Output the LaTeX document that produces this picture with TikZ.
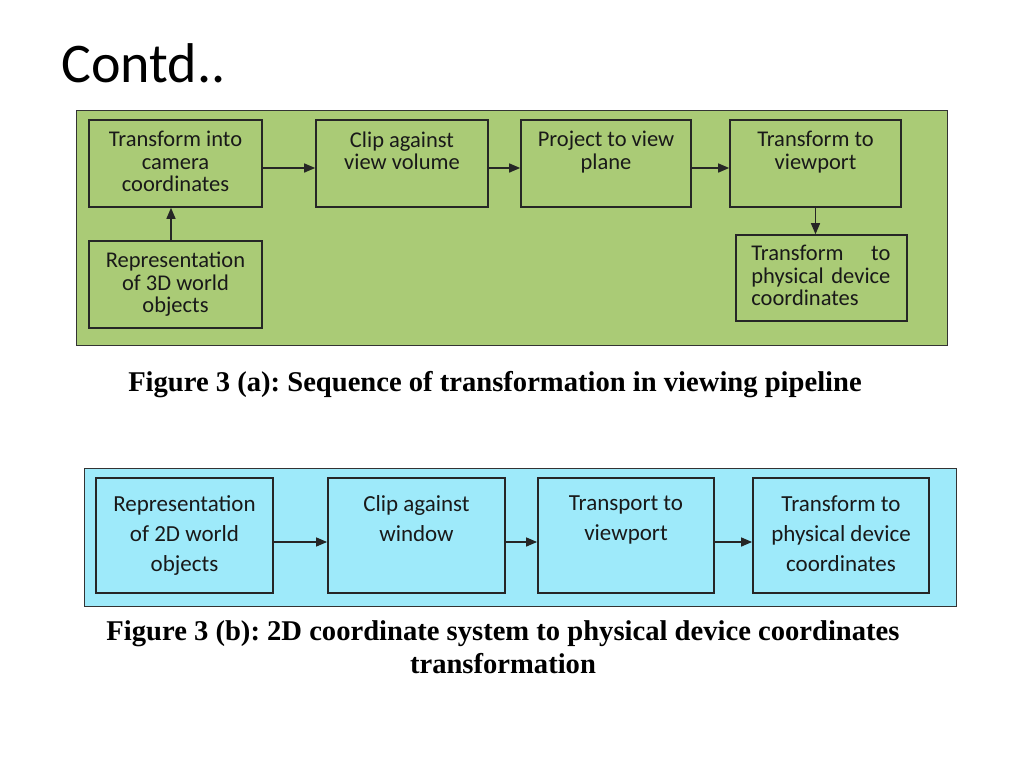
\documentclass[tikz,border=0pt]{standalone}
\usepackage{fontspec}
\setmainfont{Carlito}
\newfontfamily\capfont{Liberation Serif}
\usetikzlibrary{arrows.meta}
\definecolor{panelgreen}{RGB}{170,203,118}
\definecolor{panelblue}{RGB}{158,234,250}
\tikzset{
  panel/.style={draw=black!80, line width=1pt, rectangle, inner sep=0pt},
  gbox/.style={draw=black!85, line width=1.6pt, rectangle, inner sep=0pt, minimum height=87pt},
  bbox/.style={draw=black!85, line width=1.8pt, rectangle, inner sep=0pt, minimum height=115pt, minimum width=177pt},
  gtext/.style={font=\fontsize{22.5}{22.5}\selectfont, align=center, anchor=north, inner sep=0pt, text=black!90},
  btext/.style={font=\fontsize{23}{30}\selectfont, align=center, anchor=north, inner sep=0pt, text=black!90},
  flow/.style={-{Triangle[length=11pt,width=9pt]}, line width=1.4pt, draw=black!85},
  caption/.style={font=\capfont\bfseries\fontsize{28.6}{33}\selectfont\frenchspacing, inner sep=0pt, anchor=base, align=center}
}
\begin{document}
\begin{tikzpicture}[x=1pt,y=-1pt]
\useasboundingbox (0,0) rectangle (1024,768);
% title
\node[font=\fontsize{56}{60}\selectfont, anchor=base west, inner sep=0pt] (title) at (61,82) {Contd..};
% green panel
\node[panel, fill=panelgreen, minimum width=871pt, minimum height=235pt] (gp) at (511.5,227.5) {};
\node[gbox, minimum width=173pt] (g1) at (175.5,163.5) {};
\node[gbox, minimum width=172pt] (g2) at (402,163.5) {};
\node[gbox, minimum width=170pt] (g3) at (606,163.5) {};
\node[gbox, minimum width=171pt] (g4) at (815.5,163.5) {};
\node[gbox, minimum width=173pt] (g5) at (175.5,284.5) {};
\node[gbox, minimum width=171pt, minimum height=86pt] (g6) at (821.5,278) {};
\node[gtext] (t1) at ([yshift=-12pt]g1.north) {Transform into\\camera\\coordinates};
\node[gtext] (t2) at ([yshift=-12pt]g2.north) {Clip against\\view volume};
\node[gtext] (t3) at ([yshift=-12pt]g3.north) {Project to view\\plane};
\node[gtext] (t4) at ([yshift=-12pt]g4.north) {Transform to\\viewport};
\node[gtext] (t5) at ([yshift=-12pt]g5.north) {Representation\\of 3D world\\objects};
\node[gtext, anchor=north west, align=left, text width=139pt] (t6) at ([xshift=16pt,yshift=-11pt]g6.north west) {Transform\hfill to\\physical\hfill device\\coordinates};
\draw[flow] ([yshift=-4.5pt]g1.east) -- ([yshift=-4.5pt]g2.west);
\draw[flow] ([yshift=-4.5pt]g2.east) -- ([yshift=-4.5pt]g3.west);
\draw[flow] ([yshift=-4.5pt]g3.east) -- ([yshift=-4.5pt]g4.west);
\draw[flow] (g4.south) -- (g4.south |- g6.north);
\draw[flow] ([xshift=-4.5pt]g5.north) -- ([xshift=-4.5pt]g1.south);
\node[caption] (capa) at (495,391) {Figure 3 (a): Sequence of transformation in viewing pipeline};
% blue panel
\node[panel, fill=panelblue, minimum width=872pt, minimum height=138pt] (bp) at (520,537) {};
\node[bbox] (b1) at (184.5,535.5) {};
\node[bbox] (b2) at (416.5,535.5) {};
\node[bbox, minimum width=176pt] (b3) at (626,535.5) {};
\node[bbox, minimum width=176pt] (b4) at (841,535.5) {};
\node[btext] (u1) at ([yshift=-18pt]b1.north) {Representation\\of 2D world\\objects};
\node[btext] (u2) at ([yshift=-18pt]b2.north) {Clip against\\window};
\node[btext] (u3) at ([yshift=-18pt]b3.north) {Transport to\\viewport};
\node[btext] (u4) at ([yshift=-18pt]b4.north) {Transform to\\physical device\\coordinates};
\draw[flow] ([yshift=-6.5pt]b1.east) -- ([yshift=-6.5pt]b2.west);
\draw[flow] ([yshift=-6.5pt]b2.east) -- ([yshift=-6.5pt]b3.west);
\draw[flow] ([yshift=-6.5pt]b3.east) -- ([yshift=-6.5pt]b4.west);
\node[caption] (capb1) at (503,640) {Figure 3 (b): 2D coordinate system to physical device coordinates};
\node[caption] (capb2) at (503,673) {transformation};
\end{tikzpicture}
\end{document}
